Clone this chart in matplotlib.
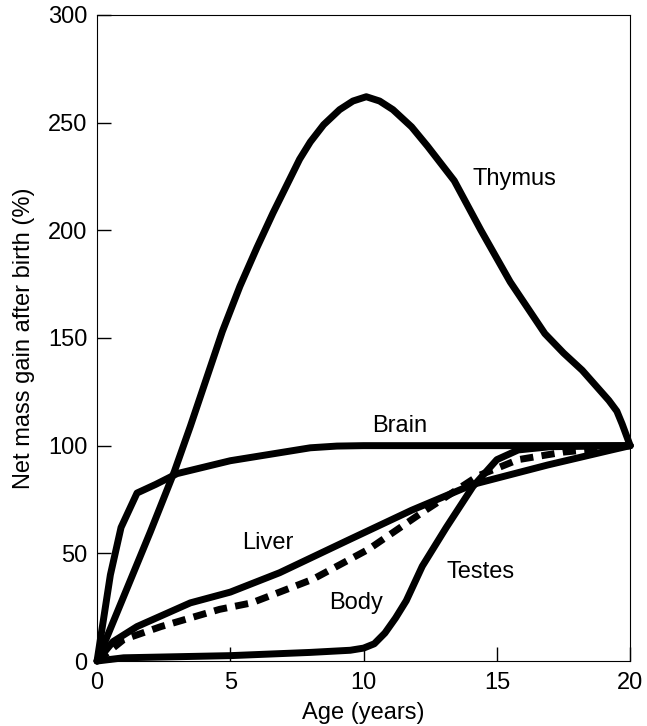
import matplotlib.pyplot as plt
import numpy as np

plt.rcParams['font.family'] = ['Liberation Sans', 'DejaVu Sans']

# Werte
thymus_x = [0, 1, 2, 2.9, 3.5, 4.1, 4.7, 5.36, 6.0, 6.6, 7.2, 7.6, 8.0, 8.5, 9.1, 9.6, 10.1, 10.6, 11.1, 11.8, 12.4, 13.4, 14.4, 15.5, 16.8, 17.5, 18.2, 18.7, 19.2, 19.5, 19.7, 20]
thymus_y = [0, 30, 60, 88, 109, 131, 153, 174, 192, 208, 223, 233, 241, 249, 256, 260, 262, 260, 256, 248, 239, 223, 200, 176, 152, 143, 135, 128, 121, 116, 110, 100]

brain_x = [0, 0.5, 0.9, 1.5, 2.2, 3.0, 4.0, 5.0, 6.5, 8.0, 9, 10, 20]
brain_y = [0, 40, 62, 78, 82, 87, 90, 93, 96, 99, 99.8, 100, 100]

liver_x = [0, 0.6, 1.5, 3.5, 5.0, 6.85, 9.4, 11.8, 14.1, 16.9, 19.3, 20]
liver_y = [0, 9, 16, 27, 32, 41, 56, 70, 82, 91, 98, 100]

body_x = [0, 1.0, 2.4, 4.6, 5.8, 6.85, 8.1, 10.2, 12.2, 14.3, 15.8, 17.5, 20]
body_y = [0, 10, 16, 24, 27, 32, 38, 52, 69, 86, 93.5, 97, 100]

testes_x = [0, 1, 5, 8, 9.5, 10, 10.4, 10.8, 11.2, 11.6, 12.2, 13.1, 14.1, 15.0, 15.8, 17, 20]
testes_y = [0, 1.5, 2.5, 4, 5, 6, 8, 13, 20, 28, 44, 62, 81, 93.5, 98, 99.5, 100]

labels = ["Thymus", "Brain", "Liver", "Body", "Testes"]
label_x = [15.65, 11.35, 6.4, 9.7, 14.4]
label_y = [224, 109, 55, 27, 41.5]

fig = plt.figure(figsize=(6.47, 7.26), dpi=100)
ax = fig.add_axes([0.150, 0.0895, 0.824, 0.890])

lw = 5
for xs, ys in [(thymus_x, thymus_y), (brain_x, brain_y), (liver_x, liver_y), (testes_x, testes_y)]:
    ax.plot(xs, ys, color='black', lw=lw, solid_joinstyle='round', solid_capstyle='round', clip_on=False)
ax.plot(body_x, body_y, color='black', lw=lw, dashes=(1.9, 1.2), clip_on=False)

for t, x, y in zip(labels, label_x, label_y):
    ax.text(x, y, t, fontsize=17, ha='center', va='center')

ax.set_xlim(0, 20)
ax.set_ylim(0, 300)
ax.set_xticks([0, 5, 10, 15, 20])
ax.set_yticks([0, 50, 100, 150, 200, 250, 300])
ax.tick_params(direction='in', length=10, width=1, labelsize=17)
ax.tick_params(axis='y', pad=7)
ax.tick_params(axis='x', pad=8)
ax.set_xlabel("Age (years)", fontsize=17, labelpad=6)
ax.set_ylabel("Net mass gain after birth (%)", fontsize=17, labelpad=9)

plt.savefig('out.png', dpi=100)
